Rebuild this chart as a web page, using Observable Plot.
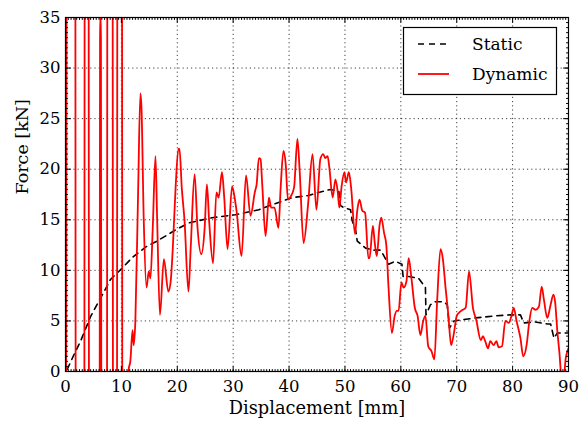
<!DOCTYPE html>
<html><head><meta charset="utf-8">
<script src="https://cdn.jsdelivr.net/npm/d3@7"></script>
<script src="https://cdn.jsdelivr.net/npm/@observablehq/plot@0.6"></script>
<style>body{margin:0;background:#fff}#chart{width:586px;height:423px}</style>
</head><body><div id="chart"></div>
<script>
const seriesNames = ["Static", "Dynamic"];
const xLabel = "Displacement [mm]";
const yLabel = "Force [kN]";
const xTicks = [0, 10, 20, 30, 40, 50, 60, 70, 80, 90];
const yTicks = [0, 5, 10, 15, 20, 25, 30, 35];

const staticX = [0.3,1.5,2.7,4.5,6.9,8.05,10.1,12,14.6,16.4,19.7,22.1,26.2,30.4,34.6,37.0,40.6,43.5,45.3,47.4,48.9,49.2,49.8,51.0,51.3,51.9,52.2,53.7,55.2,56.4,57.8,59.0,60.2,60.4,61.4,63.2,64.4,64.5,65.3,66.2,67.7,68.3,68.7,69.5,73.4,76.9,79.6,81.4,82.0,84.1,86.2,86.8,87.4,88.0,90];
const staticY = [0.2,1.65,3.0,5.45,7.9,9.1,10.2,11.3,12.4,12.9,14.0,14.7,15.2,15.5,16.0,16.5,17.2,17.4,17.7,18.0,17.8,16.4,16.2,16.0,14.9,14.0,12.9,12.2,12.0,12.0,10.6,10.9,10.6,9.4,9.4,9.2,8.3,5.6,6.6,6.9,6.9,6.6,4.3,5.0,5.3,5.5,5.6,5.6,4.8,4.9,4.7,4.7,3.3,3.8,3.8];

const dynamicX = [0,0.12,0.26,1.0,1.72,1.86,2.6,3.33,3.47,3.8,4.1,4.24,5.1,6.06,6.18,6.26,6.34,6.46,7.0,7.39,7.53,8.0,8.39,8.53,8.9,9.18,9.32,9.7,10.07,10.21,10.7,11.3,11.6,12.0,12.2,12.5,13.0,13.4,13.6,14.0,14.5,14.9,15.2,15.6,16.1,16.4,16.9,17.6,18.4,18.8,19.2,19.7,20.2,20.4,20.8,21.3,22.0,22.4,23.1,23.6,24.3,24.9,25.3,25.7,26.4,27.0,27.4,28.0,28.4,29.0,29.8,30.2,30.6,31.5,32.3,33.1,33.9,34.2,34.6,34.9,35.2,35.8,36.4,36.8,37.4,38.1,38.5,39.0,39.4,39.8,40.3,40.9,41.5,41.9,42.6,43.4,44.2,44.9,45.6,46.1,46.5,46.9,47.2,47.8,48.3,48.7,49.0,49.4,49.9,50.2,50.7,51.1,51.8,52.2,52.6,53.1,53.6,54.2,54.4,55.0,55.3,55.7,56.2,56.5,57.0,57.4,57.8,58.4,58.9,59.3,59.6,60.1,60.5,61.0,61.4,61.9,62.5,63.0,63.5,64.0,64.4,64.9,65.5,66.0,66.5,67.1,67.5,68.0,68.5,69.0,69.5,70.0,70.4,71.1,71.6,72.2,72.9,73.5,74.3,74.7,75.1,75.6,76.0,76.6,77.1,77.5,78.1,78.7,79.3,79.8,80.2,80.7,81.4,81.9,82.5,83.0,83.5,84.1,84.7,85.2,85.6,86.2,86.8,87.3,87.6,88.0,88.4,88.7,89.2,89.5,89.8,90.0];
const dynamicY = [0,0,80,200,80,-40,-150,-40,80,150,80,-40,-150,-40,33,35.3,33,-40,-150,-40,80,150,80,-40,-150,-40,80,150,80,-40,-8,0.2,1.0,4.1,2.6,5.0,18.0,27.5,26.0,15.0,8.3,9.9,9.2,14.0,21.3,15.0,5.6,11.1,7.9,8.8,12.2,18.2,22.0,22.0,18.2,14.9,7.9,12.2,19.5,14.4,11.6,14.2,18.5,14.9,10.7,17.7,17.2,19.7,17.2,12.1,18.3,17.4,15.9,11.4,19.4,15.4,17.8,18.5,21.1,21.0,18.5,13.4,17.2,16.2,16.2,14.2,18.2,21.8,20.5,17.0,17.3,18.2,23.0,19.8,12.7,16.5,21.5,16.0,21.0,21.5,21.1,21.3,20.2,17.2,19.0,17.8,16.2,18.3,19.7,18.7,19.7,18.2,13.6,15.9,17.0,15.9,15.7,11.2,11.2,14.4,12.9,11.4,14.5,15.2,13.7,12.5,8.3,3.8,5.5,6.0,6.0,8.8,8.3,8.9,11.2,9.2,6.3,5.5,3.6,5.0,5.5,2.5,2.0,1.2,7.0,12.1,11.2,8.3,5.6,2.6,3.8,5.5,5.8,6.1,6.3,9.9,6.3,5.1,3.1,3.5,3.0,2.3,3.0,2.6,3.0,2.4,2.5,5.0,4.8,5.5,6.3,5.0,3.3,1.5,2.6,5.0,6.3,6.1,6.4,8.4,7.1,5.3,6.6,7.6,6.9,4.0,1.7,-0.3,-0.3,1.3,2.0,2.3];

const staticData = staticX.map((x, i) => ({x, y: staticY[i]}));
const dynamicData = dynamicX.map((x, i) => ({x, y: dynamicY[i]}));
const xMinor = d3.range(0, 90.01, 0.5);
const yMinor = d3.range(0, 35.01, 0.5);

const tickShape = {draw(context, l) { context.moveTo(0, 0); context.lineTo(0, -l); }};
function ticks(data, axis, anchor, rotate, length) {
  const o = {frameAnchor: anchor, rotate, length, anchor: "start", shape: tickShape, stroke: "black", strokeWidth: 1};
  if (axis === "x") o.x = d => d; else o.y = d => d;
  return Plot.vector(data, o);
}

const plot = Plot.plot({
  width: 586, height: 423,
  marginLeft: 65, marginRight: 18, marginTop: 17, marginBottom: 52,
  style: {fontFamily: "'DejaVu Serif', serif", fontSize: "16px", background: "white", color: "black"},
  x: {domain: [0, 90]},
  y: {domain: [0, 35]},
  marks: [
    Plot.gridX(xTicks, {stroke: "black", strokeOpacity: 0.75, strokeDasharray: "1.2,3"}),
    Plot.gridY(yTicks, {stroke: "black", strokeOpacity: 0.75, strokeDasharray: "1.2,3"}),
    Plot.line(staticData, {x: "x", y: "y", stroke: "black", strokeWidth: 1.6, strokeDasharray: "6,5", clip: true}),
    Plot.line(dynamicData, {x: "x", y: "y", stroke: "#ff0000", strokeWidth: 1.8, clip: true, curve: "monotone-x"}),
    ticks(xMinor, "x", "bottom", 0, 2), ticks(xMinor, "x", "top", 180, 2),
    ticks(yMinor, "y", "left", 90, 2), ticks(yMinor, "y", "right", -90, 2),
    ticks(xTicks, "x", "bottom", 0, 5), ticks(xTicks, "x", "top", 180, 5),
    ticks(yTicks, "y", "left", 90, 5), ticks(yTicks, "y", "right", -90, 5),
    Plot.axisX(xTicks, {tickSize: 0, tickPadding: 9, label: null, fontSize: 16.5}),
    Plot.axisY(yTicks, {tickSize: 0, tickPadding: 5, label: null, fontSize: 16.5}),
    Plot.frame({stroke: "black", strokeWidth: 1.2}),
    Plot.text([xLabel], {frameAnchor: "bottom", dy: 42, fontSize: 17.8, text: d => d}),
    Plot.text([yLabel], {frameAnchor: "left", dx: -43, rotate: -90, fontSize: 17.5, text: d => d})
  ]
});
document.getElementById("chart").appendChild(plot);

// Legend
const svg = d3.select(plot);
const lg = svg.append("g").attr("font-family", "'DejaVu Serif', serif").attr("font-size", 17).attr("text-anchor", "start");
lg.append("rect").attr("x", 403.5).attr("y", 27.5).attr("width", 153).attr("height", 67)
  .attr("fill", "white").attr("stroke", "black").attr("stroke-width", 1.2);
const legendStyles = [
  {stroke: "black", dash: "6,5", width: 1.6},
  {stroke: "#ff0000", dash: null, width: 1.8}
];
seriesNames.forEach((name, i) => {
  const cy = 44 + i * 30;
  lg.append("line").attr("x1", 418).attr("x2", 449).attr("y1", cy).attr("y2", cy)
    .attr("stroke", legendStyles[i].stroke).attr("stroke-width", legendStyles[i].width)
    .attr("stroke-dasharray", legendStyles[i].dash);
  lg.append("text").attr("x", 472).attr("y", cy).attr("dy", "0.35em").attr("text-anchor", "start").attr("fill", "black").text(name);
});
</script></body></html>
